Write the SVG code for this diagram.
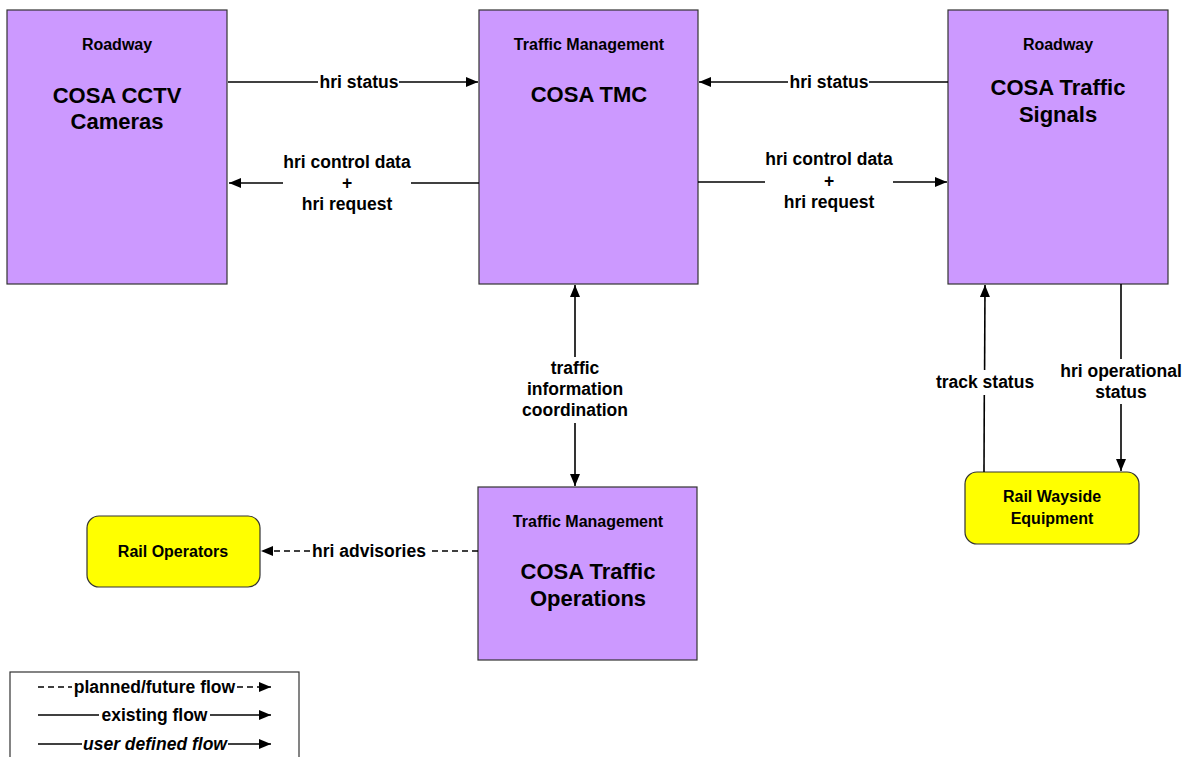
<svg xmlns="http://www.w3.org/2000/svg" width="1188" height="757" viewBox="0 0 1188 757">
<defs>
<marker id="ah" markerUnits="userSpaceOnUse" markerWidth="13" markerHeight="11" refX="12" refY="5" orient="auto">
<path d="M0,0 L12,5 L0,10 z" fill="#000"/>
</marker>
</defs>
<style>
.box{fill:#CC99FF;stroke:#333;stroke-width:1.2}
.ext{fill:#FFFF00;stroke:#333;stroke-width:1.2}
text{font-family:"Liberation Sans",Arial,sans-serif;font-weight:bold;fill:#000;text-anchor:middle}
.hd{font-size:16px}
.tt{font-size:22px}
.lb{font-size:17.5px}
.ex{font-size:16px}
.c{stroke:#000;stroke-width:1.6;fill:none}
.d{stroke-dasharray:6,4}
</style>
<rect width="1188" height="757" fill="#fff"/>

<g id="cctv">
<rect class="box" x="7" y="10" width="220" height="274"/>
<text class="hd" x="117" y="50">Roadway</text>
<text class="tt" x="117" y="103">COSA CCTV</text>
<text class="tt" x="117" y="129">Cameras</text>
</g>
<g id="tmc">
<rect class="box" x="479" y="10" width="219" height="274"/>
<text class="hd" x="589" y="50">Traffic Management</text>
<text class="tt" x="589" y="102">COSA TMC</text>
</g>
<g id="signals">
<rect class="box" x="948" y="10" width="220" height="274"/>
<text class="hd" x="1058" y="50">Roadway</text>
<text class="tt" x="1058" y="95">COSA Traffic</text>
<text class="tt" x="1058" y="122">Signals</text>
</g>
<g id="ops">
<rect class="box" x="478" y="487" width="219" height="173"/>
<text class="hd" x="588" y="527">Traffic Management</text>
<text class="tt" x="588" y="579">COSA Traffic</text>
<text class="tt" x="588" y="606">Operations</text>
</g>
<g id="railops">
<rect class="ext" x="87" y="516" width="173" height="71" rx="12"/>
<text class="ex" x="173" y="557">Rail Operators</text>
</g>
<g id="wayside">
<rect class="ext" x="965" y="472" width="174" height="72" rx="12"/>
<text class="ex" x="1052" y="502">Rail Wayside</text>
<text class="ex" x="1052" y="524">Equipment</text>
</g>

<g id="connectors">
<line class="c" x1="228" y1="82" x2="318" y2="82"/>
<line class="c" x1="399" y1="82" x2="478" y2="82" marker-end="url(#ah)"/>
<text class="lb" x="359" y="88">hri status</text>

<line class="c" x1="479" y1="183" x2="411" y2="183"/>
<line class="c" x1="283" y1="183" x2="229" y2="183" marker-end="url(#ah)"/>
<text class="lb" x="347" y="168">hri control data</text>
<text class="lb" x="347" y="189">+</text>
<text class="lb" x="347" y="210">hri request</text>

<line class="c" x1="948" y1="82" x2="869" y2="82"/>
<line class="c" x1="788" y1="82" x2="699" y2="82" marker-end="url(#ah)"/>
<text class="lb" x="829" y="88">hri status</text>

<line class="c" x1="698" y1="182" x2="765" y2="182"/>
<line class="c" x1="893" y1="182" x2="947" y2="182" marker-end="url(#ah)"/>
<text class="lb" x="829" y="165">hri control data</text>
<text class="lb" x="829" y="187">+</text>
<text class="lb" x="829" y="208">hri request</text>

<line class="c" x1="575" y1="357" x2="575" y2="285" marker-end="url(#ah)"/>
<line class="c" x1="575" y1="423" x2="575" y2="486" marker-end="url(#ah)"/>
<text class="lb" x="575" y="374">traffic</text>
<text class="lb" x="575" y="395">information</text>
<text class="lb" x="575" y="416">coordination</text>

<line class="c" x1="984" y1="472" x2="984.3" y2="395"/>
<line class="c" x1="984.6" y1="370" x2="985" y2="285" marker-end="url(#ah)"/>
<text class="lb" x="985" y="388">track status</text>

<line class="c" x1="1121" y1="284" x2="1121" y2="359"/>
<line class="c" x1="1121" y1="404" x2="1121" y2="471" marker-end="url(#ah)"/>
<text class="lb" x="1121" y="377">hri operational</text>
<text class="lb" x="1121" y="398">status</text>

<line class="c d" x1="478" y1="551" x2="428" y2="551"/>
<line class="c d" x1="310" y1="551" x2="261" y2="551" marker-end="url(#ah)"/>
<text class="lb" x="369" y="557">hri advisories</text>
</g>

<g id="legend">
<rect x="10" y="672" width="289" height="100" fill="#fff" stroke="#333" stroke-width="1.2"/>
<line class="c d" x1="38" y1="687" x2="72" y2="687"/>
<text class="lb" x="154.5" y="693">planned/future flow</text>
<line class="c d" x1="237" y1="687" x2="271" y2="687" marker-end="url(#ah)"/>
<line class="c" x1="38" y1="715" x2="99" y2="715"/>
<text class="lb" x="154.5" y="721">existing flow</text>
<line class="c" x1="210" y1="715" x2="271" y2="715" marker-end="url(#ah)"/>
<line class="c" x1="38" y1="744" x2="82" y2="744"/>
<text class="lb" x="155" y="750" font-style="italic">user defined flow</text>
<line class="c" x1="228" y1="744" x2="271" y2="744" marker-end="url(#ah)"/>
</g>
</svg>
